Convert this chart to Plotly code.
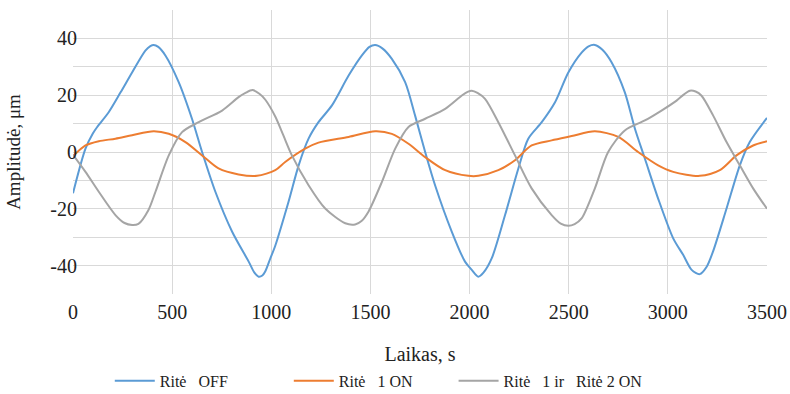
import plotly.graph_objects as go

# Ritė OFF (blue)
t_off = [0, 63, 100, 122, 180, 240, 298, 365, 390, 407, 430, 466, 533, 600, 651, 718, 802, 886,
         915, 936, 955, 970, 995, 1020, 1087, 1138, 1188, 1238, 1306, 1390, 1457, 1495, 1524,
         1560, 1608, 1675, 1725, 1776, 1826, 1910, 1977, 2011, 2044, 2070, 2112, 2179, 2246,
         2296, 2364, 2431, 2498, 2565, 2600, 2632, 2670, 2716, 2783, 2834, 2884, 2951, 3027,
         3077, 3120, 3161, 3195, 3228, 3296, 3363, 3413, 3500]
v_off = [-14.5, 1.2, 6.5, 8.8, 14, 21, 28, 35.7, 37.3, 37.7, 37, 34, 24.6, 11.7, 0, -14, -28, -38.6,
         -42.5, -43.9, -43.5, -42, -37.5, -33, -17.5, -4.7, 4.7, 10.5, 16.4, 26.9, 34, 37, 37.7,
         36.5, 32.8, 24.6, 12.9, 0, -11.7, -28, -38.6, -41.5, -43.9, -42.5, -37.4, -22.2, -5.8,
         4.7, 10.5, 17.5, 28, 35, 37.2, 37.7, 36, 31.6, 21, 8.2, -2.3, -16.4, -30.4,
         -36.2, -41.5, -43, -40.5, -35, -19.9, -4.7, 3.5, 12]

# Ritė 1 ON (orange)
t_on1 = [0, 63, 130, 214, 298, 407, 483, 567, 651, 734, 835, 928, 1020, 1070, 1171, 1238,
         1390, 1524, 1608, 1692, 1776, 1877, 1994, 2044, 2145, 2229, 2313, 2414, 2515, 2632,
         2750, 2850, 2951, 3027, 3161, 3262, 3346, 3430, 3500]
v_on1 = [-1.5, 2.3, 3.8, 4.7, 5.9, 7.3, 6.4, 3.5, -1.2, -5.8, -7.9, -8.4, -6.4, -3.5, 1.2, 3.3,
         5.3, 7.3, 6.4, 2.9, -1.8, -6.4, -8.4, -8.4, -6.4, -2.9, 2.3, 4.1, 5.6, 7.3,
         5.3, 0, -4.7, -7, -8.4, -6.4, -1.2, 2.3, 3.8]

# Ritė 1 ir Ritė 2 ON (grey)
t_on12 = [0, 63, 130, 214, 260, 298, 330, 380, 416, 483, 550, 634, 752, 835, 870, 905, 940, 970,
          1020, 1060, 1104, 1188, 1272, 1373, 1423, 1455, 1490, 1558, 1625, 1692, 1776, 1877,
          1961, 1990, 2011, 2040, 2078, 2145, 2229, 2313, 2414, 2460, 2498, 2530, 2565, 2632,
          2699, 2783, 2884, 2968, 3044, 3080, 3111, 3140, 3170, 3228, 3296, 3363, 3430, 3500]
v_on12 = [-1, -7, -14, -22.2, -25, -25.7, -25.3, -20.5, -14, -1.2, 7, 10.5, 14.6, 19.3, 20.8, 21.8,
          20.5, 18.4, 12.5, 6, -1.2, -11.7, -19.9, -25.1, -25.5, -24.3, -21, -10.5, 1.2, 8.8,
          11.7, 15.2, 19.9, 21.2, 21.6, 20.8, 18.7, 10.5, -1.2, -12.8, -22.2, -25.2, -26, -25.4,
          -23.4, -12.8, 0, 7.6, 11.1, 14.6, 18.1, 20.2, 21.6, 21.3, 19.8, 12.9, 3.5, -4.7,
          -12.8, -20]

x_ticks = [0, 500, 1000, 1500, 2000, 2500, 3000, 3500]
y_grid = [-50, -40, -30, -20, -10, 0, 10, 20, 30, 40, 50]
y_labels = ["", "-40", "", "-20", "", "0", "", "20", "", "40", ""]

FONT = "Liberation Serif"
INK = "#222222"
SP = "\u00a0"

fig = go.Figure()
series = [
    (t_off, v_off, "Ritė" + SP * 3 + "OFF" + SP * 14, "#5B9BD5"),
    (t_on1, v_on1, "Ritė" + SP * 3 + "1" + SP + "ON" + SP * 9, "#ED7D31"),
    (t_on12, v_on12, "Ritė" + SP * 3 + "1" + SP + "ir" + SP * 3 + "Ritė" + SP + "2" + SP + "ON", "#A5A5A5"),
]
for t, v, name, color in series:
    fig.add_trace(go.Scatter(
        x=t, y=v, name=name, mode="lines",
        line=dict(color=color, width=2, shape="spline", smoothing=0.8),
    ))

fig.update_layout(
    width=790, height=394,
    margin=dict(l=73, r=23, t=10, b=100, autoexpand=False),
    paper_bgcolor="white", plot_bgcolor="white",
    font=dict(family=FONT, color=INK),
    showlegend=True,
    legend=dict(
        orientation="h", x=0.053, xanchor="left", y=-0.306, yanchor="middle",
        font=dict(family=FONT, size=16, color=INK),
        itemwidth=40, traceorder="normal", tracegroupgap=0,
    ),
)
fig.update_xaxes(
    range=[0, 3500], tickvals=x_ticks, showgrid=True, gridcolor="#D9D9D9", gridwidth=1,
    zeroline=False, showline=False, ticks="", automargin=False, ticklabelstandoff=4,
    tickfont=dict(family=FONT, size=20, color=INK),
    title=dict(text="Laikas, s", font=dict(family=FONT, size=20, color=INK), standoff=24),
)
fig.update_yaxes(
    range=[-50, 50], tickvals=y_grid, ticktext=y_labels, showgrid=True, gridcolor="#D9D9D9",
    gridwidth=1, zeroline=False, showline=False, ticks="", automargin=False,
    ticklabelstandoff=-5,
    tickfont=dict(family=FONT, size=20, color=INK),
    title=dict(text="Amplitudė, μm", font=dict(family=FONT, size=19, color=INK), standoff=24),
)

fig.write_html("out.html")
